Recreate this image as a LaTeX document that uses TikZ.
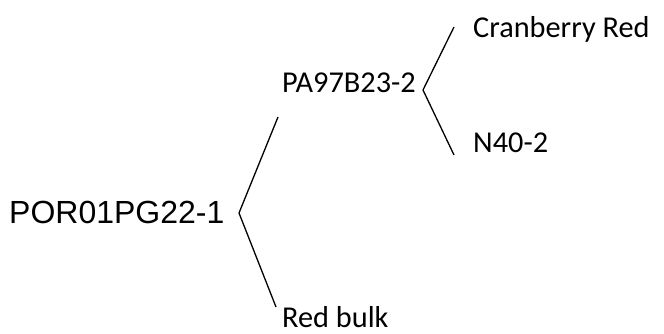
\documentclass[tikz,border=0pt]{standalone}
\usepackage{fontspec}
\setmainfont{Carlito}
\newfontfamily\arialfont{Liberation Sans}
\begin{document}
\begin{tikzpicture}[x=1pt,y=1pt,
  lbl/.style={inner sep=0pt,anchor=base west,font=\fontsize{30.3}{36}\selectfont},
  rootlbl/.style={inner sep=0pt,anchor=base west,font=\arialfont\fontsize{32}{38}\selectfont},
  branch/.style={line width=1.3pt,black}]
\useasboundingbox (0,0) rectangle (664,333);
\node[rootlbl] (root) at (9,110) {POR01PG22-1};
\node[lbl] (pa) at (282,241) {PA97B23-2};
\node[lbl] (rb) at (282,6) {Red bulk};
\node[lbl] (cr) at (473,295) {Cranberry Red};
\node[lbl] (n4) at (473,181) {N40-2};
\coordinate (r0) at (239,120);
\coordinate (r1) at (278,216);
\coordinate (r2) at (276,26);
\coordinate (p0) at (423,243);
\coordinate (p1) at (454,306);
\coordinate (p2) at (454,178);
\draw[branch] (r1) -- (r0) -- (r2);
\draw[branch] (p1) -- (p0) -- (p2);
\end{tikzpicture}
\end{document}
